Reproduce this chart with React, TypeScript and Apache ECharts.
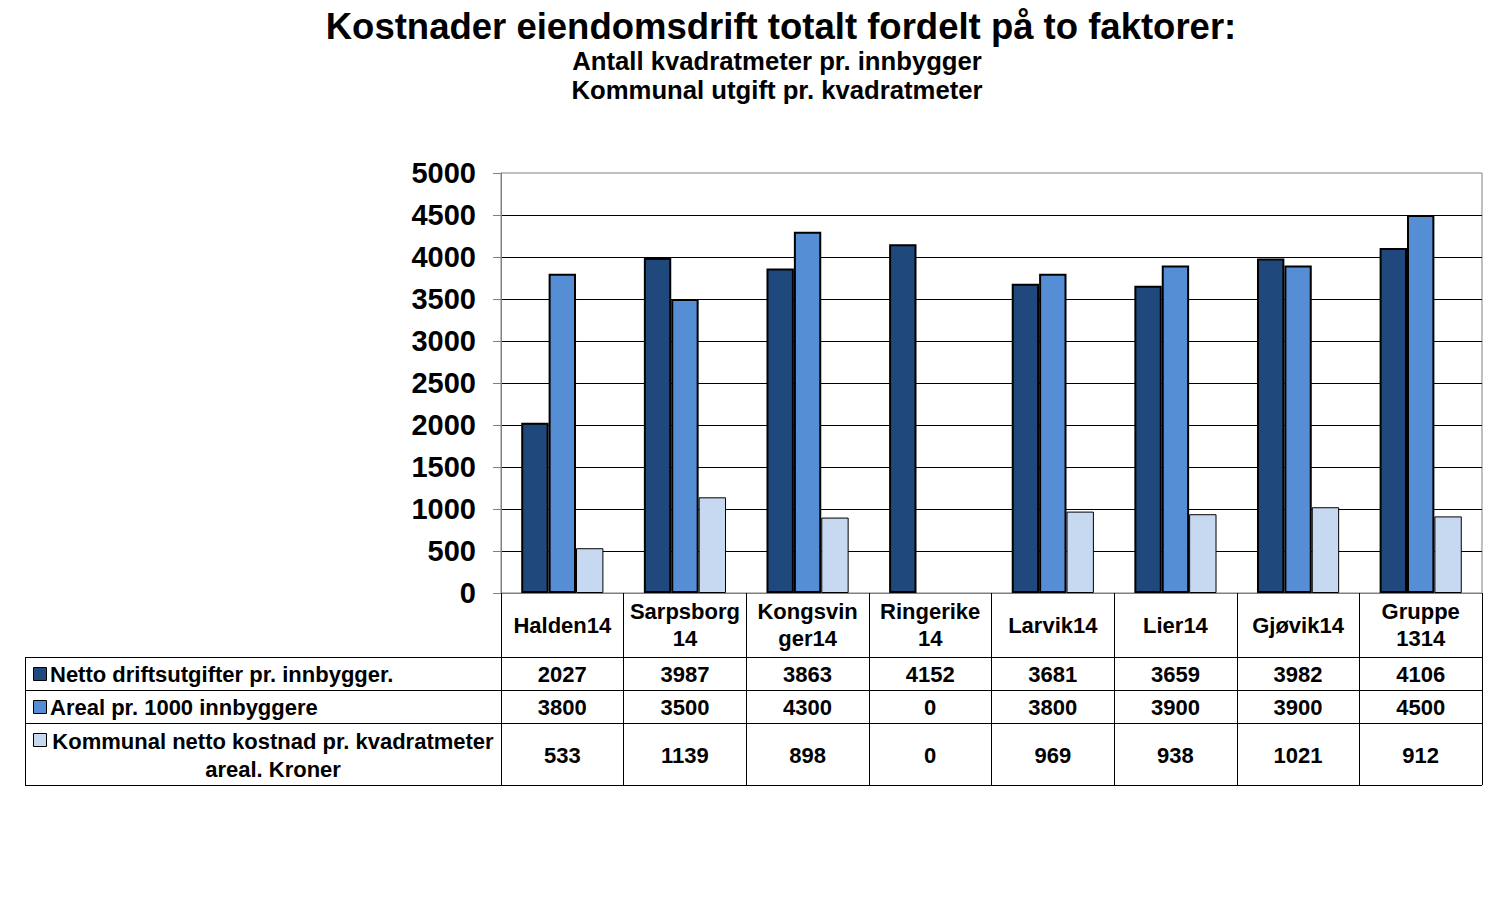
import React, { useEffect, useRef } from "react";
import * as echarts from "echarts";

const categories = [
  "Halden14",
  "Sarpsborg\n14",
  "Kongsvin\nger14",
  "Ringerike\n14",
  "Larvik14",
  "Lier14",
  "Gjøvik14",
  "Gruppe\n1314",
];
const nettoDrift = [2027, 3987, 3863, 4152, 3681, 3659, 3982, 4106];
const arealPer1000 = [3800, 3500, 4300, 0, 3800, 3900, 3900, 4500];
const kommunalKostnad = [533, 1139, 898, 0, 969, 938, 1021, 912];
const seriesNames = [
  "Netto driftsutgifter pr. innbygger.",
  "Areal pr. 1000 innbyggere",
  "Kommunal netto kostnad pr. kvadratmeter\nareal. Kroner",
];
const seriesColors = ["#1F497D", "#558ED5", "#C6D9F1"];
const seriesBorders = [2, 2, 1];
const titleText = "Kostnader eiendomsdrift totalt fordelt på to faktorer:";
const subtitleLines = ["Antall kvadratmeter pr. innbygger", "Kommunal utgift pr. kvadratmeter"];

const FONT = "Arial, Liberation Sans, sans-serif";
const GRID_LEFT = 501;
const GRID_TOP = 173;
const GRID_RIGHT_EDGE = 1482;
const GRID_BOTTOM_EDGE = 593;
const TABLE_LEFT = 25;
const ROW_LINES = [657, 690, 723, 785];

export default function App() {
  const ref = useRef<HTMLDivElement>(null);

  useEffect(() => {
    if (!ref.current) return;
    const chart = echarts.init(ref.current, undefined, { renderer: "svg" });
    const allSeries = [nettoDrift, arealPer1000, kommunalKostnad];

    chart.setOption({
      animation: false,
      backgroundColor: "#ffffff",
      grid: {
        left: GRID_LEFT,
        top: GRID_TOP,
        width: GRID_RIGHT_EDGE - GRID_LEFT,
        height: GRID_BOTTOM_EDGE - GRID_TOP,
        show: true,
        borderColor: "#808080",
        borderWidth: 1,
        backgroundColor: "transparent",
      },
      xAxis: {
        type: "category",
        data: categories,
        axisLine: { show: true, lineStyle: { color: "#808080", width: 1 } },
        axisTick: {
          show: true,
          interval: 0,
          length: ROW_LINES[ROW_LINES.length - 1] - GRID_BOTTOM_EDGE,
          lineStyle: { color: "#000000", width: 1 },
        },
        axisLabel: {
          interval: 0,
          margin: 32,
          verticalAlign: "middle",
          fontFamily: FONT,
          fontWeight: "bold",
          fontSize: 22,
          lineHeight: 27,
          color: "#000000",
          align: "center",
        },
      },
      yAxis: {
        type: "value",
        min: 0,
        max: 5000,
        interval: 500,
        axisLine: { show: true, lineStyle: { color: "#808080", width: 1 } },
        axisTick: { show: true, length: 8, lineStyle: { color: "#808080" } },
        axisLabel: {
          margin: 25,
          formatter: (v: number) => String(v),
          fontFamily: FONT,
          fontWeight: "bold",
          fontSize: 29,
          color: "#000000",
        },
        splitLine: {
          show: true,
          showMaxLine: false,
          showMinLine: false,
          lineStyle: { color: "#000000", width: 1 },
        },
      },
      series: allSeries.map((vals, s) => ({
        type: "bar",
        name: seriesNames[s],
        data: vals.map((v) => (v === 0 ? null : v)),
        barGap: "0%",
        barCategoryGap: "33%",
        itemStyle: {
          color: seriesColors[s],
          borderColor: "#000000",
          borderWidth: seriesBorders[s],
        },
      })),
    });

    const elements: any[] = [];
    elements.push({
      type: "text",
      x: 781,
      y: 26,
      style: {
        text: titleText,
        font: `bold 36.5px ${FONT}`,
        fill: "#000",
        align: "center",
        verticalAlign: "middle",
      },
    });
    subtitleLines.forEach((t, k) => {
      elements.push({
        type: "text",
        x: 777,
        y: 61 + k * 29,
        style: {
          text: t,
          font: `bold 25.7px ${FONT}`,
          fill: "#000",
          align: "center",
          verticalAlign: "middle",
        },
      });
    });

    ROW_LINES.forEach((y) => {
      elements.push({
        type: "line",
        shape: { x1: TABLE_LEFT, y1: y + 0.5, x2: GRID_RIGHT_EDGE, y2: y + 0.5 },
        style: { stroke: "#000", lineWidth: 1 },
      });
    });
    elements.push({
      type: "line",
      shape: { x1: TABLE_LEFT + 0.5, y1: ROW_LINES[0], x2: TABLE_LEFT + 0.5, y2: ROW_LINES[ROW_LINES.length - 1] },
      style: { stroke: "#000", lineWidth: 1 },
    });

    allSeries.forEach((vals, s) => {
      const top = ROW_LINES[s];
      const bottom = ROW_LINES[s + 1];
      const multi = seriesNames[s].includes("\n");
      const keyCenter = multi ? top + 17 : (top + bottom) / 2;
      elements.push({
        type: "rect",
        shape: { x: 33.5, y: Math.round(keyCenter - 7) + 0.5, width: 13, height: 13 },
        style: { fill: seriesColors[s], stroke: "#000", lineWidth: 1 },
      });
      elements.push({
        type: "text",
        x: multi ? 273 : 50,
        y: (top + bottom) / 2 + 1,
        style: {
          text: seriesNames[s],
          font: `bold 22px ${FONT}`,
          fill: "#000",
          align: multi ? "center" : "left",
          verticalAlign: "middle",
          lineHeight: 28,
        },
      });
      vals.forEach((v, i) => {
        const x = chart.convertToPixel({ xAxisIndex: 0 }, i) as number;
        elements.push({
          type: "text",
          x,
          y: (top + bottom) / 2 + 1,
          style: {
            text: String(v),
            font: `bold 22px ${FONT}`,
            fill: "#000",
            align: "center",
            verticalAlign: "middle",
          },
        });
      });
    });

    chart.setOption({ graphic: { elements } });

    return () => chart.dispose();
  }, []);

  return (
    <div
      ref={ref}
      style={{ position: "fixed", left: 0, top: 0, width: 1494, height: 922, background: "#fff" }}
    />
  );
}
